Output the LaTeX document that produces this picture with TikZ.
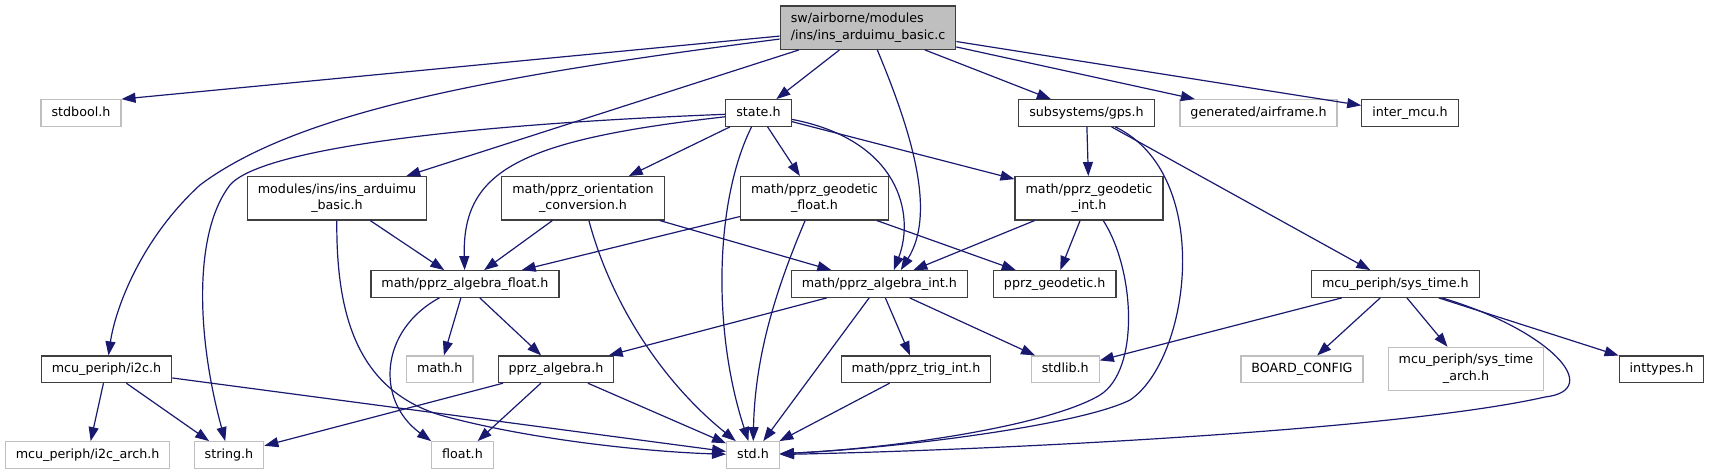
\documentclass[tikz,border=0pt]{standalone}
\usepackage{fontspec}
\setmainfont{DejaVu Sans}
\usetikzlibrary{calc,arrows.meta}

\definecolor{edgeblue}{HTML}{191970}
\definecolor{hdrline}{HTML}{3F3F3F}
\definecolor{sysline}{HTML}{BFBFBF}
\definecolor{rootgray}{HTML}{BFBFBF}

\tikzset{
	hfile/.style={draw=hdrline, line width=1.2pt, fill=white, inner xsep=10.5pt, inner ysep=0pt,
		minimum height=26.6pt, text height=9.6pt, text depth=2.6pt, font=\fontsize{12.7}{16.7}\selectfont},
	sysfile/.style={hfile, draw=sysline},
	twoline/.style={text height=, text depth=, align=center, minimum height=43.3pt},
	rootfile/.style={hfile, twoline, align=left, fill=rootgray},
	dep/.style={draw=edgeblue, line width=1.2pt, -{Triangle[length=14pt,width=10pt]}}
}

\begin{document}
\begin{tikzpicture}[x=1pt, y=-1pt]
	\useasboundingbox (0,0) rectangle (1711,475);
	
	% files
	\node[rootfile] (root) at (868,27.7) {sw/airborne/modules\\/ins/ins\_arduimu\_basic.c};
	
	\node[sysfile] (stdbool) at (81,113) {stdbool.h};
	\node[hfile] (state) at (758.5,113) {state.h};
	\node[hfile] (gps) at (1086.5,113) {subsystems/gps.h};
	\node[sysfile] (airframe) at (1258.5,113) {generated/airframe.h};
	\node[hfile] (intermcu) at (1410,113) {inter\_mcu.h};
	
	\node[hfile,twoline] (insh) at (337,198.3) {modules/ins/ins\_arduimu\\\_basic.h};
	\node[hfile,twoline] (orient) at (583,198.3) {math/pprz\_orientation\\\_conversion.h};
	\node[hfile,twoline] (geofloat) at (814.5,198.3) {math/pprz\_geodetic\\\_float.h};
	\node[hfile,twoline] (geoint) at (1089,198.3) {math/pprz\_geodetic\\\_int.h};
	
	\node[hfile] (algfloat) at (465,284) {math/pprz\_algebra\_float.h};
	\node[hfile] (algint) at (879.4,284) {math/pprz\_algebra\_int.h};
	\node[hfile] (geodetic) at (1054.7,284) {pprz\_geodetic.h};
	\node[hfile] (systime) at (1395.4,284) {mcu\_periph/sys\_time.h};
	
	\node[hfile] (itwoc) at (106.5,369.3) {mcu\_periph/i2c.h};
	\node[sysfile] (mathh) at (439.8,369.3) {math.h};
	\node[hfile] (pprzalg) at (556,369.3) {pprz\_algebra.h};
	\node[hfile] (trigint) at (916,369.3) {math/pprz\_trig\_int.h};
	\node[sysfile] (stdlib) at (1065.3,369.3) {stdlib.h};
	\node[sysfile] (boardcfg) at (1302,369.3) {BOARD\_CONFIG};
	\node[sysfile,twoline] (systimearch) at (1466,369) {mcu\_periph/sys\_time\\\_arch.h};
	\node[hfile] (inttypes) at (1661.5,369.3) {inttypes.h};
	
	\node[sysfile] (i2carch) at (87.6,455) {mcu\_periph/i2c\_arch.h};
	\node[sysfile] (stringh) at (229,455) {string.h};
	\node[sysfile] (floath) at (462.5,455) {float.h};
	\node[sysfile] (stdh) at (753,455) {std.h};
	
	% includes of the source file
	\draw[dep] (root) -- (stdbool.north east);
	\draw[dep] (root) .. controls (500,75) and (300,110) .. (200,185) .. controls (140,240) and (115,310) .. (itwoc);
	\draw[dep] (root) -- (insh);
	\draw[dep] (root) -- (state);
	\draw[dep] (root) .. controls (915,140) and (935,215) .. (algint.33);
	\draw[dep] (root) -- (gps);
	\draw[dep] (root) -- (airframe);
	\draw[dep] (root) -- (intermcu);
	
	% state.h
	\draw[dep] (state) .. controls (450,125) and (260,150) .. (230,185) .. controls (195,230) and (195,330) .. (stringh);
	\draw[dep] (state) .. controls (520,140) and (462,170) .. (algfloat);
	\draw[dep] (state) -- (orient);
	\draw[dep] (state) .. controls (715,200) and (712,330) .. (stdh);
	\draw[dep] (state) -- (geofloat);
	\draw[dep] (state) .. controls (900,140) and (915,215) .. (algint.44);
	\draw[dep] (state) -- (geoint);
	
	% gps.h
	\draw[dep] (gps) -- (geoint);
	\draw[dep] (gps) .. controls (1215,175) and (1190,360) .. (1130,400) .. controls (1080,425) and (900,448) .. (stdh);
	\draw[dep] (gps) -- (systime);
	
	% geodetic
	\draw[dep] (geofloat) -- (algfloat);
	\draw[dep] (geofloat) .. controls (780,280) and (755,350) .. (stdh);
	\draw[dep] (geofloat) -- (geodetic);
	\draw[dep] (geoint) -- (algint);
	\draw[dep] (geoint) -- (geodetic);
	\draw[dep] (geoint) .. controls (1135,270) and (1140,370) .. (1100,395) .. controls (1050,425) and (900,448) .. (stdh);
	
	% orientation, ins
	\draw[dep] (orient) -- (algfloat);
	\draw[dep] (orient) .. controls (610,300) and (660,380) .. (stdh);
	\draw[dep] (orient) -- (algint);
	\draw[dep] (insh) -- (algfloat);
	\draw[dep] (insh) .. controls (336,320) and (360,390) .. (440,415) .. controls (530,440) and (650,452) .. (stdh);
	
	% algebra
	\draw[dep] (algfloat) .. controls (380,330) and (375,400) .. (floath.north west);
	\draw[dep] (algfloat) -- (mathh);
	\draw[dep] (algfloat) -- (pprzalg);
	\draw[dep] (algint) -- (pprzalg);
	\draw[dep] (algint) -- (stdh);
	\draw[dep] (algint) -- (trigint);
	\draw[dep] (algint) -- (stdlib);
	\draw[dep] (pprzalg) -- (stringh);
	\draw[dep] (pprzalg) -- (floath);
	\draw[dep] (pprzalg) -- (stdh);
	\draw[dep] (trigint) -- (stdh);
	
	% i2c
	\draw[dep] (itwoc) -- (i2carch);
	\draw[dep] (itwoc) -- (stringh);
	\draw[dep] (itwoc) -- (stdh);
	
	% sys_time
	\draw[dep] (systime) -- (stdlib);
	\draw[dep] (systime) -- (boardcfg);
	\draw[dep] (systime) -- (systimearch);
	\draw[dep] (systime) -- (inttypes);
	\draw[dep] (systime) .. controls (1550,330) and (1605,390) .. (1545,397) .. controls (1400,430) and (1000,450) .. (stdh);
\end{tikzpicture}
\end{document}
